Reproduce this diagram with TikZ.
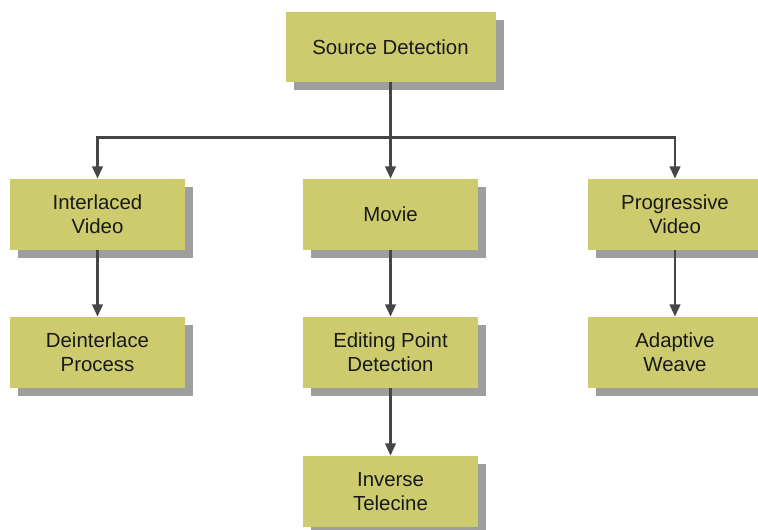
\documentclass[tikz,border=0pt]{standalone}
\usepackage{fontspec}
\setmainfont{Liberation Sans}
\usetikzlibrary{shadows,arrows.meta}
\definecolor{boxfill}{RGB}{204,204,110}
\definecolor{linkgray}{RGB}{70,70,70}
\tikzset{
  stage/.style={rectangle, fill=boxfill, minimum width=3.5cm, minimum height=1.42cm,
    align=center, text=black!90, font=\fontsize{11.6}{13.6}\selectfont, inner sep=2pt,
    drop shadow={shadow xshift=0.16cm, shadow yshift=-0.16cm, fill=black!38, opacity=1}},
  link/.style={draw=linkgray, line width=1.4pt, -{Triangle[length=7pt,width=6pt]}}
}
\begin{document}
\begin{tikzpicture}
\useasboundingbox (0,0) rectangle (15.16,10.6);
% top level
\node[stage, minimum width=4.2cm, minimum height=1.4cm] (src) at (7.81,9.66) {Source Detection};
% source types
\node[stage] (iv) at (1.95,6.31) {Interlaced\\Video};
\node[stage] (mv) at (7.81,6.31) {Movie};
\node[stage] (pv) at (13.5,6.31) {Progressive\\Video};
% processing
\node[stage] (dp) at (1.95,3.55) {Deinterlace\\Process};
\node[stage] (ep) at (7.81,3.55) {Editing Point\\Detection};
\node[stage] (aw) at (13.5,3.55) {Adaptive\\Weave};
\node[stage] (it) at (7.81,0.77) {Inverse\\Telecine};
% connectors
\coordinate (bus) at ([yshift=-1.1cm]src.south);
\draw[link] (src.south) -- (mv.north);
\draw[link] (bus) -| (iv.north);
\draw[link] (bus) -| (pv.north);
\draw[link] (iv.south) -- (dp.north);
\draw[link] (mv.south) -- (ep.north);
\draw[link] (pv.south) -- (aw.north);
\draw[link] (ep.south) -- (it.north);
\end{tikzpicture}
\end{document}
